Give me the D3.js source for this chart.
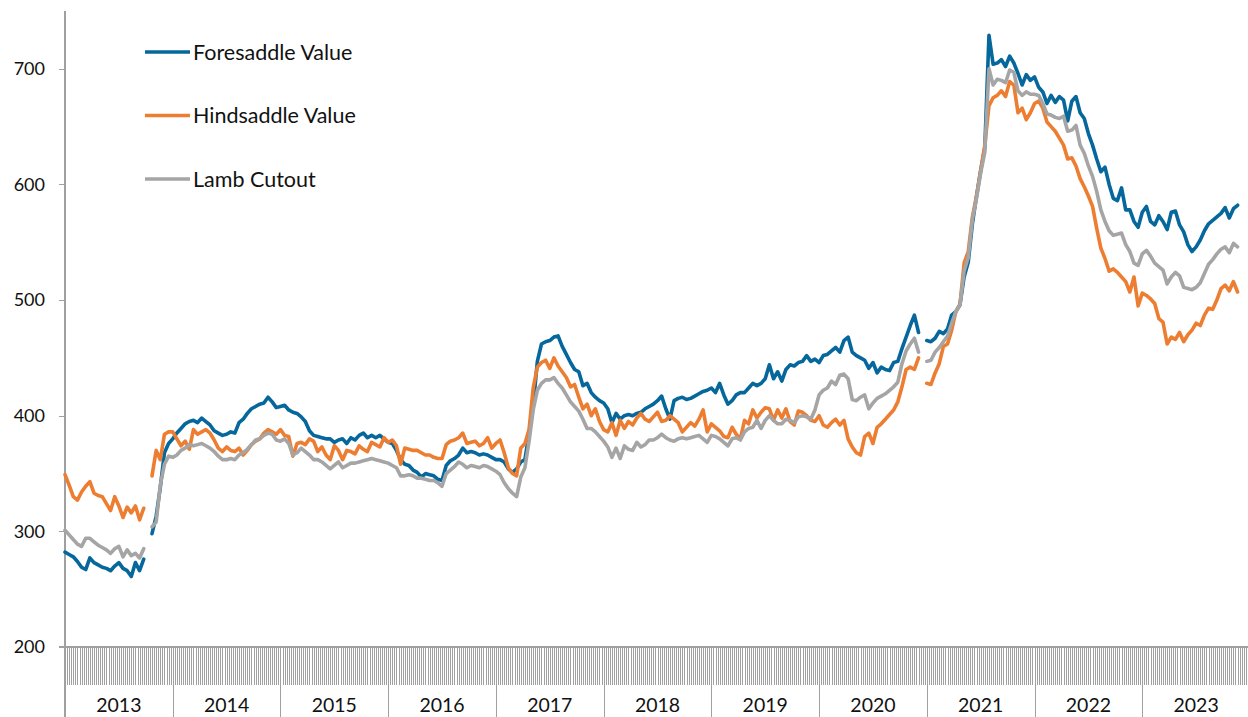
<!DOCTYPE html>
<html>
<head>
<meta charset="utf-8">
<script src="https://cdn.jsdelivr.net/npm/d3@7"></script>
<style>
  html, body { margin: 0; padding: 0; background: #fff; }
  svg { display: block; font-family: Lato, "Open Sans", sans-serif; }
</style>
</head>
<body>
<svg id="chart" width="1248" height="717"></svg>
<script>
// ---------- data ----------
const years = ["2013","2014","2015","2016","2017","2018","2019","2020","2021","2022","2023"];
const weeksPerYear = 52;
const sampleStepWeeks = 2; // one reading every two weeks
const yTicks = [200, 300, 400, 500, 600, 700];
const seriesNames = ["Foresaddle Value", "Hindsaddle Value", "Lamb Cutout"];
const seriesColors = ["#05679C", "#ED7D31", "#A5A5A5"];

const foresaddle = [
  282,280,278,274,269,267,277,273,271,269,268,266,270,273,268,266,261,273,266,276,null,298,313,338,368,376,
  380,385,389,393,395,396,394,398,395,392,387,385,383,384,386,385,394,397,402,406,408,410,411,416,412,407,
  408,409,405,403,402,399,395,387,383,382,381,380,380,377,379,380,376,381,379,383,385,381,383,381,383,380,
  377,376,370,362,358,357,353,351,347,350,349,348,345,344,357,361,363,366,372,368,369,368,366,367,366,364,
  362,362,360,354,351,354,360,362,385,408,447,462,464,465,468,469,460,453,446,440,438,426,428,420,416,413,
  411,406,394,402,397,400,401,400,402,403,406,408,410,413,417,406,397,413,415,416,414,415,417,419,421,422,
  424,420,428,418,410,413,418,420,420,424,428,426,428,432,444,432,438,430,440,444,443,446,447,452,447,449,
  446,452,453,456,459,455,465,468,455,452,450,448,441,446,437,442,440,439,446,447,458,468,478,487,472,null,
  465,464,467,473,471,475,487,490,496,520,533,566,590,612,632,729,704,705,708,702,711,705,696,686,695,690,
  693,684,680,670,677,671,676,673,655,672,676,662,657,644,634,622,611,615,600,588,586,597,578,578,568,563,
  576,581,568,565,573,568,561,576,577,565,559,548,542,546,552,560,566,569,572,575,580,571,579,582
];
const hindsaddle = [
  349,340,330,327,334,339,343,333,331,330,324,318,330,322,312,321,316,322,310,320,null,348,370,362,384,386,
  386,380,374,378,371,388,384,386,388,385,379,372,369,373,370,369,372,366,370,375,378,380,385,388,386,384,
  388,383,382,365,376,377,375,380,378,369,373,366,362,374,370,362,370,369,367,374,371,369,377,375,373,381,
  377,379,374,358,372,371,370,370,368,366,366,364,363,363,375,378,379,381,385,376,377,378,374,376,381,372,
  376,379,368,355,350,348,372,376,388,424,442,446,448,441,450,443,438,433,425,427,416,406,410,400,406,395,
  388,386,394,383,396,389,395,392,398,402,397,395,399,403,395,396,400,397,394,386,390,394,391,397,405,386,
  393,390,387,382,381,390,384,380,396,393,405,398,403,407,406,396,405,398,406,395,392,404,403,400,396,395,
  400,392,390,394,397,392,396,380,373,368,366,382,385,376,390,393,397,401,405,412,425,440,442,440,450,null,
  428,427,437,445,460,462,474,490,496,532,542,572,590,612,634,668,675,677,681,676,689,686,662,666,656,662,
  670,672,666,654,650,646,640,634,622,623,616,605,598,590,581,562,545,536,525,527,524,520,516,507,520,495,
  506,504,501,497,484,481,462,468,466,472,464,470,474,480,478,487,493,492,500,510,513,508,516,507
];
const cutout = [
  301,297,293,289,287,294,294,291,288,286,284,281,285,287,278,284,279,281,277,285,null,304,308,340,358,365,
  364,366,370,372,375,374,375,376,374,372,369,365,362,362,363,362,366,368,371,375,379,380,383,385,384,379,
  378,380,376,366,368,372,369,366,362,362,360,357,354,357,360,355,357,359,359,360,361,362,363,362,361,360,
  359,357,355,348,348,349,348,346,346,345,344,344,342,339,350,353,356,360,358,355,357,356,355,357,356,354,
  352,349,342,337,333,330,347,355,378,405,422,428,431,431,433,428,424,418,412,408,404,397,389,389,386,382,
  378,373,364,372,363,374,371,370,377,373,375,379,379,381,384,381,379,378,380,381,380,381,382,383,380,377,
  383,382,380,377,374,380,381,379,386,389,390,396,389,396,400,396,393,393,397,396,394,399,400,399,397,405,
  418,422,424,430,427,435,436,432,414,413,416,418,406,411,415,417,419,422,425,429,445,456,462,467,455,null,
  447,448,455,459,464,469,480,490,496,525,537,570,588,610,628,700,686,691,690,688,699,697,681,677,680,678,
  678,677,670,661,660,658,657,659,646,647,651,634,627,616,607,594,578,568,560,556,557,558,548,542,532,530,
  540,543,538,532,529,526,514,520,524,521,511,510,509,511,515,523,531,535,540,544,546,541,549,546
];
const seriesValues = [foresaddle, hindsaddle, cutout];

// ---------- layout ----------
const svg = d3.select("#chart");
const plotLeft = 65, plotRight = 1250, plotBottom = 647;
const totalWeeks = years.length * weeksPerYear;
const x = d3.scaleLinear().domain([0, totalWeeks]).range([plotLeft, plotRight]);
const y = d3.scaleLinear().domain([200, 750]).range([plotBottom, 11]);
const axisColor = "#a0a0a0";
const textColor = "#111";

// weekly category ticks
const weekAxis = d3.axisBottom(x)
  .tickValues(d3.range(0, totalWeeks + 1))
  .tickSize(38).tickFormat("");
const gw = svg.append("g").attr("transform", `translate(0,${plotBottom})`).call(weekAxis);
gw.select(".domain").remove();
gw.selectAll("line").attr("stroke", axisColor).attr("shape-rendering", "crispEdges");

// year boundary ticks
const yearAxis = d3.axisBottom(x)
  .tickValues(d3.range(0, years.length + 1).map(k => k * weeksPerYear))
  .tickSize(75).tickFormat("");
const gy2 = svg.append("g").attr("transform", `translate(0,${plotBottom})`).call(yearAxis);
gy2.select(".domain").remove();
gy2.selectAll("line").attr("stroke", axisColor).attr("shape-rendering", "crispEdges");

// year labels
svg.append("g").selectAll("text").data(years).join("text")
  .attr("x", (d, k) => x(k * weeksPerYear + weeksPerYear / 2))
  .attr("y", 712)
  .attr("text-anchor", "middle")
  .attr("font-size", 19.5)
  .attr("fill", textColor)
  .text(d => d);

// x axis baseline
svg.append("line")
  .attr("x1", plotLeft - 6).attr("x2", 1248)
  .attr("y1", y(200)).attr("y2", y(200))
  .attr("stroke", axisColor).attr("stroke-width", 1.3).attr("shape-rendering", "crispEdges");

// y axis
const yAxis = d3.axisLeft(y).tickValues(yTicks).tickSize(6).tickPadding(14).tickFormat(d3.format("d"));
const gyA = svg.append("g").attr("transform", `translate(${plotLeft},0)`).call(yAxis);
gyA.select(".domain").remove();
gyA.selectAll("line").attr("stroke", axisColor).attr("shape-rendering", "crispEdges");
gyA.selectAll("text").attr("font-size", 18).attr("fill", textColor).attr("font-family", "Lato, sans-serif");
svg.append("line")
  .attr("x1", plotLeft).attr("x2", plotLeft)
  .attr("y1", y(750)).attr("y2", 717)
  .attr("stroke", axisColor).attr("stroke-width", 1.3).attr("shape-rendering", "crispEdges");

// lines
const line = d3.line()
  .defined(d => d != null)
  .x((d, i) => x(i * sampleStepWeeks))
  .y(d => y(d));

seriesValues.forEach((vals, s) => {
  svg.append("path")
    .datum(vals)
    .attr("fill", "none")
    .attr("stroke", seriesColors[s])
    .attr("stroke-width", 3.6)
    .attr("stroke-linejoin", "round")
    .attr("stroke-linecap", "round")
    .attr("d", line);
});

// legend
const legend = svg.append("g");
seriesNames.forEach((name, s) => {
  const ly = 52 + s * 63.5;
  legend.append("line")
    .attr("x1", 145).attr("x2", 190).attr("y1", ly).attr("y2", ly)
    .attr("stroke", seriesColors[s]).attr("stroke-width", 3.6);
  legend.append("text")
    .attr("x", 193).attr("y", ly).attr("dy", "0.36em")
    .attr("font-size", 21.5).attr("fill", textColor)
    .text(name);
});
</script>
</body>
</html>
